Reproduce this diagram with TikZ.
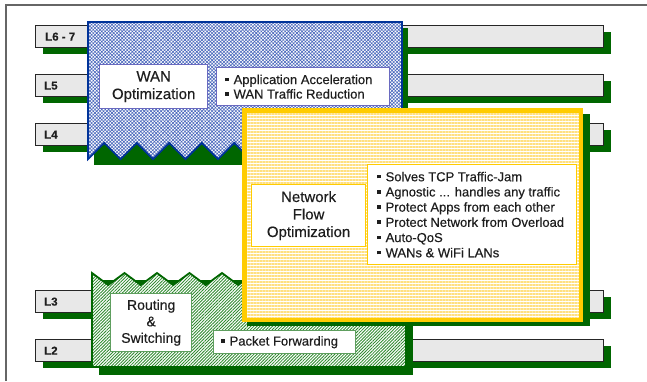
\documentclass[tikz,border=0pt]{standalone}
\usepackage{fontspec}
\setmainfont{Liberation Sans}[FakeBold=0.25]
\usetikzlibrary{patterns.meta,shadows}
\definecolor{dkgreen}{HTML}{006600}
\definecolor{barfill}{HTML}{E8E8E8}
\definecolor{wanblue}{HTML}{003399}
\definecolor{wanhatch}{HTML}{4A68BC}
\definecolor{wanlabel}{HTML}{6A6AC0}
\definecolor{ylw}{HTML}{FFCC00}
\definecolor{ylwstripe}{HTML}{FFE080}
\definecolor{rthatch}{HTML}{2F8A2F}
\definecolor{rtlabel}{HTML}{5E9E5E}
\definecolor{txt}{HTML}{1E1E1E}
\definecolor{framegray}{HTML}{666666}
\newcommand\bul{\rule[0.22em]{0.27em}{0.27em}\hspace{0.38em}}
\newcommand\heavy{\addfontfeature{FakeBold=0.35}}
\tikzset{
  layerbar/.style={draw=black!85, line width=1.3pt, fill=barfill, anchor=north west,
    minimum width=568pt, minimum height=22pt, inner sep=0pt,
    general shadow={fill=dkgreen, shadow xshift=7pt, shadow yshift=-6pt}},
  laylabel/.style={anchor=west, font=\fontsize{11.5}{13}\selectfont\bfseries, text=txt, inner sep=0pt},
  inbox/.style={fill=white, line width=1.4pt, anchor=north west, inner sep=0pt},
  title/.style={inbox, align=center, text=txt, font=\heavy\fontsize{15}{17.5}\selectfont},
  bultext/.style={anchor=west, align=left, inner sep=0pt, text=txt},
  wanblock/.style={draw=wanblue, line width=1.8pt, preaction={fill=white},
    pattern={Hatch[angle=45,distance=2.4pt,line width=0.6pt]}, pattern color=wanhatch},
  rtblock/.style={draw=dkgreen, line width=1.8pt, preaction={fill=white},
    pattern={Lines[angle=45,distance=2.2pt,line width=0.85pt]}, pattern color=rthatch},
  flowblock/.style={draw=ylw, line width=4.5pt, preaction={fill=white},
    pattern={Lines[angle=0,distance=3pt,line width=1.5pt]}, pattern color=ylwstripe},
  blockshadow/.style={fill=dkgreen}
}
\begin{document}
\begin{tikzpicture}[x=1pt,y=-1pt]
\useasboundingbox (0,0) rectangle (647,381);
% frame
\draw[framegray, line width=1.2pt] (6,381) -- (6,5) -- (647,5);

% layer bars
\node[layerbar] (b67) at (35,25) {};
\node[layerbar] (b5) at (35,74) {};
\node[layerbar] (b4) at (35,123) {};
\node[layerbar] (b3) at (35,290) {};
\node[layerbar] (b2) at (35,339) {};
\node[laylabel] (t67) at ([xshift=10pt]b67.west) {L6 - 7};
\node[laylabel] (t5) at ([xshift=9pt]b5.west) {L5};
\node[laylabel] (t4) at ([xshift=9pt]b4.west) {L4};
\node[laylabel] (t3) at ([xshift=9pt]b3.west) {L3};
\node[laylabel] (t2) at ([xshift=9pt]b2.west) {L2};

% WAN block
\fill[blockshadow] (94,28) rectangle (408,165);
\draw[wanblock] (88,22) -- (402,22) -- (402,151) -- (396.75,143) -- (380.5,159)
  -- (364.25,143) -- (348,159) -- (331.75,143) -- (315.5,159) -- (299.25,143)
  -- (283,159) -- (266.75,143) -- (250.5,159) -- (234.25,143) -- (218,159)
  -- (201.75,143) -- (185.5,159) -- (169.25,143) -- (153,159) -- (136.75,143)
  -- (120.5,159) -- (104.25,143) -- (88,159) -- cycle;
\node[title, draw=wanlabel, minimum width=108pt, minimum height=44pt] (wanl) at (99,64) {WAN\\Optimization};
\node[inbox, draw=wanlabel, minimum width=173pt, minimum height=38pt] (wanb) at (216,67) {};
\node[bultext, font=\heavy\fontsize{13}{14.5}\selectfont] (wanbt) at ([xshift=9pt]wanb.west)
  {\bul Application Acceleration\\\bul WAN Traffic Reduction};

% Routing block
\fill[blockshadow] (99,280) rectangle (413,375);
\draw[rtblock] (92,367) -- (92,273) -- (108.25,285) -- (124.5,273) -- (140.75,285)
  -- (157,273) -- (173.25,285) -- (189.5,273) -- (205.75,285) -- (222,273)
  -- (238.25,285) -- (254.5,273) -- (270.75,285) -- (287,273) -- (303.25,285)
  -- (319.5,273) -- (335.75,285) -- (352,273) -- (368.25,285) -- (384.5,273)
  -- (400.75,285) -- (406,279) -- (406,367) -- cycle;
\node[title, draw=rtlabel, minimum width=81pt, minimum height=58pt,
  font=\heavy\fontsize{14}{16.5}\selectfont] (rtl) at (110,293) {Routing\\\&\\Switching};
\node[inbox, draw=rtlabel, minimum width=142pt, minimum height=23pt] (rtb) at (213,330) {};
\node[bultext, font=\heavy\fontsize{13}{14.5}\selectfont] (rtbt) at ([xshift=8pt]rtb.west) {\bul Packet Forwarding};

% Network flow block
\fill[blockshadow] (247,114) rectangle (590,326);
\draw[flowblock] (244.25,110.25) rectangle (580.75,319.75);
\node[title, draw=ylw, line width=1.2pt, minimum width=114pt, minimum height=62pt] (nfl) at (251,184) {Network\\Flow\\Optimization};
\node[inbox, draw=ylw, line width=1.2pt, minimum width=209pt, minimum height=100pt] (nfb) at (367,164) {};
\node[bultext, font=\heavy\fontsize{13}{15.2}\selectfont] (nfbt) at ([xshift=10pt]nfb.west)
  {\bul Solves TCP Traffic-Jam\\
   \bul Agnostic ... handles any traffic\\
   \bul Protect Apps from each other\\
   \bul Protect Network from Overload\\
   \bul Auto-QoS\\
   \bul WANs \& WiFi LANs};
\end{tikzpicture}
\end{document}
